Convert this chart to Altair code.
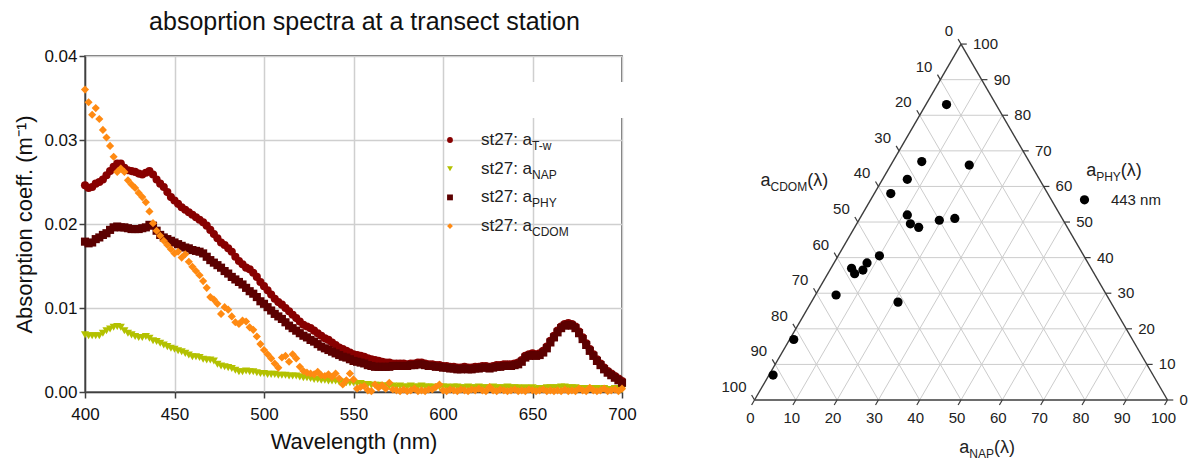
import math
import altair as alt
import pandas as pd

FONT = "Liberation Sans"

# ---------------- spectra (left panel) ----------------
wavelengths = list(range(400, 701, 2))

a_tw = [0.0246, 0.0243, 0.0244, 0.0248, 0.0250, 0.0253, 0.0258, 0.0263, 0.0268, 0.0272,
        0.0272, 0.0267, 0.0264, 0.0263, 0.0262, 0.0260, 0.0259, 0.0261, 0.0263, 0.0259,
        0.0253, 0.0248, 0.0244, 0.0238, 0.0232, 0.0228, 0.0224, 0.0220, 0.0217, 0.0214,
        0.0211, 0.0208, 0.0205, 0.0202, 0.0198, 0.0193, 0.0188, 0.0183, 0.0178, 0.0175,
        0.0171, 0.0167, 0.0161, 0.0156, 0.0152, 0.0148, 0.0146, 0.0142, 0.0137, 0.0131,
        0.0126, 0.0121, 0.0116, 0.0111, 0.0107, 0.0104, 0.0100, 0.0096, 0.0092, 0.0088,
        0.0084, 0.0080, 0.0078, 0.0076, 0.0073, 0.0070, 0.0067, 0.0064, 0.0062, 0.0059,
        0.0056, 0.0053, 0.0051, 0.0049, 0.0047, 0.0045, 0.0044, 0.0043, 0.0042, 0.0040,
        0.0039, 0.0038, 0.0037, 0.0036, 0.0035, 0.0035, 0.0034, 0.0034, 0.0034, 0.0034,
        0.0033, 0.0034, 0.0034, 0.0035, 0.0035, 0.0034, 0.0033, 0.0033, 0.0032, 0.0032,
        0.0031, 0.0031, 0.0030, 0.0030, 0.0029, 0.0029, 0.0030, 0.0029, 0.0029, 0.0030,
        0.0030, 0.0031, 0.0031, 0.0030, 0.0031, 0.0032, 0.0032, 0.0033, 0.0033, 0.0033,
        0.0034, 0.0035, 0.0038, 0.0043, 0.0045, 0.0046, 0.0045, 0.0046, 0.0049, 0.0054,
        0.0061, 0.0067, 0.0073, 0.0078, 0.0081, 0.0082, 0.0081, 0.0078, 0.0072, 0.0065,
        0.0058, 0.0051, 0.0045, 0.0039, 0.0034, 0.0029, 0.0025, 0.0022, 0.0019, 0.0016,
        0.0013]

a_nap = [0.0068, 0.0067, 0.0067, 0.0067, 0.0067, 0.0070, 0.0073, 0.0075, 0.0077, 0.0078,
         0.0077, 0.0073, 0.0070, 0.0068, 0.0066, 0.0065, 0.0065, 0.0066, 0.0064, 0.0061,
         0.0060, 0.0058, 0.0056, 0.0054, 0.0052, 0.0051, 0.0049, 0.0048, 0.0046, 0.0044,
         0.0042, 0.0042, 0.0041, 0.0039, 0.0038, 0.0038, 0.0037, 0.0033, 0.0031, 0.0030,
         0.0029, 0.0028, 0.0026, 0.0024, 0.0024, 0.0025, 0.0024, 0.0024, 0.0023, 0.0022,
         0.0022, 0.0021, 0.0021, 0.0021, 0.0020, 0.0020, 0.0020, 0.0019, 0.0019, 0.0019,
         0.0018, 0.0017, 0.0017, 0.0016, 0.0015, 0.0015, 0.0014, 0.0014, 0.0013, 0.0013,
         0.0013, 0.0012, 0.0012, 0.0011, 0.0011, 0.0011, 0.0010, 0.0010, 0.0009, 0.0009,
         0.0008, 0.0008, 0.0008, 0.0007, 0.0007, 0.0007, 0.0007, 0.0006, 0.0007, 0.0006,
         0.0006, 0.0007, 0.0006, 0.0006, 0.0007, 0.0006, 0.0006, 0.0006, 0.0005, 0.0006,
         0.0006, 0.0006, 0.0005, 0.0006, 0.0006, 0.0005, 0.0005, 0.0006, 0.0005, 0.0005,
         0.0006, 0.0005, 0.0005, 0.0005, 0.0006, 0.0005, 0.0005, 0.0005, 0.0006, 0.0005,
         0.0005, 0.0005, 0.0004, 0.0005, 0.0004, 0.0005, 0.0003, 0.0004, 0.0004, 0.0005,
         0.0005, 0.0005, 0.0005, 0.0006, 0.0006, 0.0005, 0.0005, 0.0005, 0.0004, 0.0004,
         0.0004, 0.0004, 0.0004, 0.0004, 0.0003, 0.0004, 0.0003, 0.0003, 0.0004, 0.0003,
         0.0003]

a_phy = [0.0179, 0.0177, 0.0178, 0.0182, 0.0184, 0.0187, 0.0189, 0.0193, 0.0196, 0.0197,
         0.0196, 0.0196, 0.0195, 0.0194, 0.0194, 0.0194, 0.0195, 0.0196, 0.0199, 0.0198,
         0.0192, 0.0187, 0.0184, 0.0182, 0.0180, 0.0178, 0.0176, 0.0174, 0.0172, 0.0171,
         0.0169, 0.0168, 0.0167, 0.0165, 0.0161, 0.0157, 0.0154, 0.0151, 0.0148, 0.0144,
         0.0141, 0.0137, 0.0134, 0.0131, 0.0128, 0.0124, 0.0120, 0.0117, 0.0113, 0.0108,
         0.0105, 0.0101, 0.0097, 0.0093, 0.0090, 0.0087, 0.0083, 0.0079, 0.0076, 0.0073,
         0.0070, 0.0067, 0.0065, 0.0062, 0.0060, 0.0057, 0.0054, 0.0052, 0.0050, 0.0048,
         0.0046, 0.0044, 0.0042, 0.0041, 0.0039, 0.0037, 0.0036, 0.0035, 0.0034, 0.0032,
         0.0031, 0.0030, 0.0030, 0.0030, 0.0030, 0.0030, 0.0031, 0.0031, 0.0031, 0.0031,
         0.0031, 0.0032, 0.0032, 0.0033, 0.0033, 0.0032, 0.0031, 0.0031, 0.0030, 0.0030,
         0.0029, 0.0029, 0.0028, 0.0028, 0.0027, 0.0027, 0.0028, 0.0027, 0.0027, 0.0028,
         0.0028, 0.0029, 0.0029, 0.0028, 0.0029, 0.0030, 0.0030, 0.0031, 0.0031, 0.0031,
         0.0032, 0.0033, 0.0036, 0.0041, 0.0043, 0.0044, 0.0043, 0.0044, 0.0047, 0.0052,
         0.0059, 0.0065, 0.0071, 0.0076, 0.0079, 0.0080, 0.0079, 0.0076, 0.0070, 0.0063,
         0.0056, 0.0049, 0.0043, 0.0037, 0.0032, 0.0027, 0.0023, 0.0020, 0.0017, 0.0014,
         0.0011]

a_cdom = [0.0360, 0.0345, 0.0330, 0.0338, 0.0325, 0.0312, 0.0303, 0.0293, 0.0280, 0.0262,
          0.0266, 0.0262, 0.0252, 0.0247, 0.0243, 0.0237, 0.0232, 0.0226, 0.0215, 0.0201,
          0.0192, 0.0186, 0.0180, 0.0175, 0.0170, 0.0165, 0.0167, 0.0160, 0.0164, 0.0155,
          0.0149, 0.0144, 0.0139, 0.0132, 0.0124, 0.0113, 0.0110, 0.0105, 0.0093, 0.0101,
          0.0098, 0.0090, 0.0083, 0.0081, 0.0085, 0.0084, 0.0077, 0.0074, 0.0066, 0.0057,
          0.0050, 0.0045, 0.0040, 0.0034, 0.0029, 0.0041, 0.0043, 0.0036, 0.0045, 0.0040,
          0.0030, 0.0025, 0.0023, 0.0022, 0.0021, 0.0024, 0.0020, 0.0019, 0.0021, 0.0018,
          0.0022, 0.0016, 0.0009, 0.0014, 0.0022, 0.0015, 0.0004, 0.0006, 0.0007, 0.0002,
          0.0001, 0.0009, 0.0005, 0.0008, 0.0004, 0.0011, 0.0003, 0.0002, 0.0001, 0.0003,
          0.0001, 0.0002, 0.0004, 0.0001, 0.0002, 0.0001, 0.0003, 0.0003, 0.0006, 0.0009,
          0.0002, 0.0001, 0.0003, 0.0002, 0.0001, 0.0003, 0.0002, 0.0001, 0.0003, 0.0002,
          0.0004, 0.0002, 0.0001, 0.0006, 0.0002, 0.0001, 0.0003, 0.0002, 0.0001, 0.0002,
          0.0003, 0.0001, 0.0002, 0.0001, 0.0003, 0.0002, 0.0001, 0.0002, 0.0003, 0.0001,
          0.0002, 0.0001, 0.0002, 0.0001, 0.0003, 0.0001, 0.0002, 0.0001, 0.0004, 0.0002,
          0.0001, 0.0005, 0.0002, 0.0001, 0.0002, 0.0004, 0.0001, 0.0002, 0.0003, 0.0001,
          0.0004]

series_keys = ["T-w", "NAP", "PHY", "CDOM"]
series_colors = ["#880000", "#b3c100", "#5c0000", "#ff8a12"]
series_shapes = ["circle", "triangle-down", "square", "diamond"]

x_ticks = [400, 450, 500, 550, 600, 650, 700]
y_ticks = [0.0, 0.01, 0.02, 0.03, 0.04]

chart_title = "absoprtion spectra at a transect station"

# ---------------- ternary (right panel) ----------------
tern_cdom = [12, 26, 15, 32, 38, 37, 37.5, 36, 30, 26, 49.5, 53.5, 55.5, 58, 58, 65.5, 51.5, 82, 92]
tern_nap = [5, 7, 19, 6, 4, 11, 13, 15.5, 19.5, 23, 10, 8, 8, 5, 6.5, 5, 21, 1, 1]
tern_phy = [83, 67, 66, 62, 58, 52, 49.5, 48.5, 50.5, 51, 40.5, 38.5, 36.5, 37, 35.5, 29.5, 27.5, 17, 7]
tern_ticks = [0, 10, 20, 30, 40, 50, 60, 70, 80, 90, 100]

# Arial / Liberation Sans advance widths (1/1000 em) for measuring labels
ARIAL = {"s": 500, "t": 278, "2": 556, "7": 556, ":": 278, " ": 278, "a": 556,
         "(": 333, ")": 333, "λ": 520, "C": 722, "D": 722, "O": 778, "M": 833,
         "P": 667, "H": 722, "Y": 667, "N": 722, "A": 667, "T": 611, "-": 333, "w": 722}


def text_w(s, size):
    return sum(ARIAL.get(c, 556) for c in s) * size / 1000.0


# ---------------- layout constants ----------------
PLOT_W, PLOT_H = 537, 336
SPACING = 105
PXU_X, PXU_Y = 4.13, 4.11          # ternary pixels per unit
TRI_X0_PX_FROM_PANEL = 27.5        # ternary (0,0) vertex offset from panel left
TRI_BASE_PX_FROM_TOP = 344         # ternary base line offset from panel top
R_W, R_H = 460, 390

# ================= LEFT PANEL =================
rows = []
for key, vals in zip(series_keys, [a_tw, a_nap, a_phy, a_cdom]):
    for wl, v in zip(wavelengths, vals):
        rows.append({"wl": wl, "v": v, "series": key})
spec_df = pd.DataFrame(rows)

color_scale = alt.Scale(domain=series_keys, range=series_colors)
shape_scale = alt.Scale(domain=series_keys, range=series_shapes)

axis_style = dict(labelFont=FONT, titleFont=FONT, labelFontSize=17, titleFontSize=22,
                  labelColor="#111111", titleColor="#111111", titleFontWeight="normal",
                  gridColor="#cfcfcf", gridWidth=1.5, domainColor="#404040", domainWidth=1.5,
                  tickColor="#404040", tickSize=6, tickWidth=1.5, labelFlush=False)

spectra = alt.Chart(spec_df).mark_point(filled=True, size=66, opacity=1, strokeWidth=0).encode(
    x=alt.X("wl:Q", scale=alt.Scale(domain=[400, 700], nice=False, zero=False, padding=0),
            axis=alt.Axis(values=x_ticks, title="Wavelength (nm)", labelPadding=8, titlePadding=9,
                          **axis_style)),
    y=alt.Y("v:Q", scale=alt.Scale(domain=[0, 0.04], nice=False, padding=0),
            axis=alt.Axis(values=y_ticks, format=".2f", title="Absorption coeff. (m\u207b\u00b9)",
                          labelPadding=2, titlePadding=7, **axis_style)),
    color=alt.Color("series:N", scale=color_scale, legend=None),
    shape=alt.Shape("series:N", scale=shape_scale, legend=None),
)

one = pd.DataFrame({"k": [0]})

title_mark = alt.Chart(one).mark_text(text=chart_title, align="center", baseline="alphabetic",
                                      font=FONT, fontSize=25, color="#111111").encode(
    x=alt.value(PLOT_W / 2 + 11), y=alt.value(-26))

# white patch present in the original figure (covers part of the frame, top right)
patch = alt.Chart(one).mark_rect(color="#ffffff").encode(
    x=alt.value(400), x2=alt.value(545), y=alt.value(26), y2=alt.value(62))

legend_layers = []
LEG_X, LEG_Y0, LEG_DY = 365, 84, 28.7
MAIN_FS, SUB_FS = 17, 12
for i, key in enumerate(series_keys):
    yy = LEG_Y0 + LEG_DY * i
    legend_layers.append(
        alt.Chart(pd.DataFrame({"series": [key]})).mark_point(filled=True, size=34, opacity=1, strokeWidth=0)
        .encode(x=alt.value(LEG_X), y=alt.value(yy),
                color=alt.Color("series:N", scale=color_scale, legend=None),
                shape=alt.Shape("series:N", scale=shape_scale, legend=None)))
    legend_layers.append(
        alt.Chart(one).mark_text(text="st27: a", align="left", baseline="middle", font=FONT,
                                 fontSize=MAIN_FS, color="#222222")
        .encode(x=alt.value(LEG_X + 31), y=alt.value(yy)))
    legend_layers.append(
        alt.Chart(one).mark_text(text=key, align="left", baseline="middle", font=FONT,
                                 fontSize=SUB_FS, color="#222222")
        .encode(x=alt.value(LEG_X + 31 + text_w("st27: a", MAIN_FS)), y=alt.value(yy + 6)))

left = alt.layer(spectra, patch, title_mark, *legend_layers).properties(
    width=PLOT_W, height=PLOT_H,
    view=alt.ViewBackground(stroke="#404040", strokeWidth=1.5),
)

# ================= RIGHT PANEL (ternary) =================
SQ3 = math.sqrt(3) / 2


def tern_xy(nap, phy):
    return nap + phy / 2.0, phy * SQ3


X0 = -TRI_X0_PX_FROM_PANEL / PXU_X
Y_TOP = TRI_BASE_PX_FROM_TOP / PXU_Y
xs = alt.Scale(domain=[X0, X0 + R_W / PXU_X], nice=False, zero=False, padding=0)
ys = alt.Scale(domain=[Y_TOP - R_H / PXU_Y, Y_TOP], nice=False, zero=False, padding=0)


def seg_df(segs):
    out = []
    for (n1, p1), (n2, p2) in segs:
        x1, y1 = tern_xy(n1, p1)
        x2, y2 = tern_xy(n2, p2)
        out.append({"x1": x1, "y1": y1, "x2": x2, "y2": y2})
    return pd.DataFrame(out)


def rules(df, color, width):
    return alt.Chart(df).mark_rule(color=color, strokeWidth=width).encode(
        x=alt.X("x1:Q", scale=xs, axis=None), y=alt.Y("y1:Q", scale=ys, axis=None),
        x2="x2:Q", y2="y2:Q")


grid_segs = []
for k in tern_ticks[1:-1]:
    grid_segs.append(((0, k), (100 - k, k)))          # constant PHY (horizontal)
    grid_segs.append(((k, 0), (k, 100 - k)))          # constant NAP
    grid_segs.append(((100 - k, 0), (0, 100 - k)))    # constant CDOM
grid = rules(seg_df(grid_segs), "#cccccc", 1)

outline = rules(seg_df([((0, 0), (100, 0)), ((0, 0), (0, 100)), ((100, 0), (0, 100))]), "#3c3c3c", 1.4)

TL = 1.4
tick_rows = []
for k in tern_ticks:
    bx, by = tern_xy(k, 0)                 # bottom: NAP
    tick_rows.append({"x1": bx, "y1": by, "x2": bx - TL * 0.5, "y2": by - TL * SQ3})
    lx, ly = tern_xy(0, 100 - k)           # left: CDOM
    tick_rows.append({"x1": lx, "y1": ly, "x2": lx - TL * 0.5, "y2": ly + TL * SQ3})
    rx, ry = tern_xy(100 - k, k)           # right: PHY
    tick_rows.append({"x1": rx, "y1": ry, "x2": rx + TL, "y2": ry})
ticks = rules(pd.DataFrame(tick_rows), "#3c3c3c", 1.2)

TFS = 15
lab_bottom = pd.DataFrame([{"x": tern_xy(k, 0)[0], "y": 0, "t": str(k)} for k in tern_ticks])
lab_left = pd.DataFrame([{"x": tern_xy(0, 100 - k)[0], "y": tern_xy(0, 100 - k)[1], "t": str(k)} for k in tern_ticks])
lab_right = pd.DataFrame([{"x": tern_xy(100 - k, k)[0], "y": tern_xy(100 - k, k)[1], "t": str(k)} for k in tern_ticks])


def labels(df, **kw):
    return alt.Chart(df).mark_text(font=FONT, fontSize=TFS, color="#222222", **kw).encode(
        x=alt.X("x:Q", scale=xs, axis=None), y=alt.Y("y:Q", scale=ys, axis=None), text="t:N")


lb = labels(lab_bottom, align="center", baseline="top", dx=-4, dy=11)
ll = labels(lab_left, align="right", baseline="bottom", dx=-8, dy=-5)
lr = labels(lab_right, align="left", baseline="middle", dx=12, dy=0)

tern_df = pd.DataFrame({"cdom": tern_cdom, "nap": tern_nap, "phy": tern_phy})
tern_pts = alt.Chart(tern_df).transform_calculate(
    tx="datum.nap + datum.phy / 2", ty="datum.phy * sqrt(3) / 2"
).mark_point(filled=True, size=85, opacity=1, color="#000000", strokeWidth=0).encode(
    x=alt.X("tx:Q", scale=xs, axis=None), y=alt.Y("ty:Q", scale=ys, axis=None))


def composite(x, y, parts):
    """parts: list of (text, fontsize, dy_px); laid out left-to-right from datum (x,y)."""
    layers = []
    off = 0.0
    for txt, fs, dy in parts:
        layers.append(alt.Chart(one).mark_text(text=txt, align="left", baseline="middle", font=FONT,
                                               fontSize=fs, color="#222222", dx=off, dy=dy)
                      .encode(x=alt.XDatum(x, scale=xs, axis=None), y=alt.YDatum(y, scale=ys, axis=None)))
        off += text_w(txt, fs)
    return layers


title_layers = []
title_layers += composite(1.45, 53.3, [("a", 18, 0), ("CDOM", 12, 6), ("(λ)", 18, 0)])
title_layers += composite(80.3, 55.7, [("a", 18, 0), ("PHY", 12, 6), ("(λ)", 18, 0)])
title_layers += composite(49.6, -11.7, [("a", 18, 0), ("NAP", 12, 6), ("(λ)", 18, 0)])
title_layers += composite(86.3, 48.7, [("443 nm", 15, 0)])

leg_pt = alt.Chart(one).mark_point(filled=True, size=85, opacity=1, color="#000000", strokeWidth=0).encode(
    x=alt.XDatum(79.9, scale=xs, axis=None), y=alt.YDatum(48.7, scale=ys, axis=None))

right = alt.layer(grid, outline, ticks, lb, ll, lr, tern_pts, leg_pt, *title_layers).properties(
    width=R_W, height=R_H,
    view=alt.ViewBackground(strokeWidth=0),
)

chart = alt.hconcat(left, right, spacing=SPACING, bounds="flush").configure(
    font=FONT, padding={"left": 13, "top": 9, "right": 0, "bottom": 0}
).configure_view(strokeWidth=0)

chart.save("out.html", embed_options={"renderer": "svg", "actions": False})
